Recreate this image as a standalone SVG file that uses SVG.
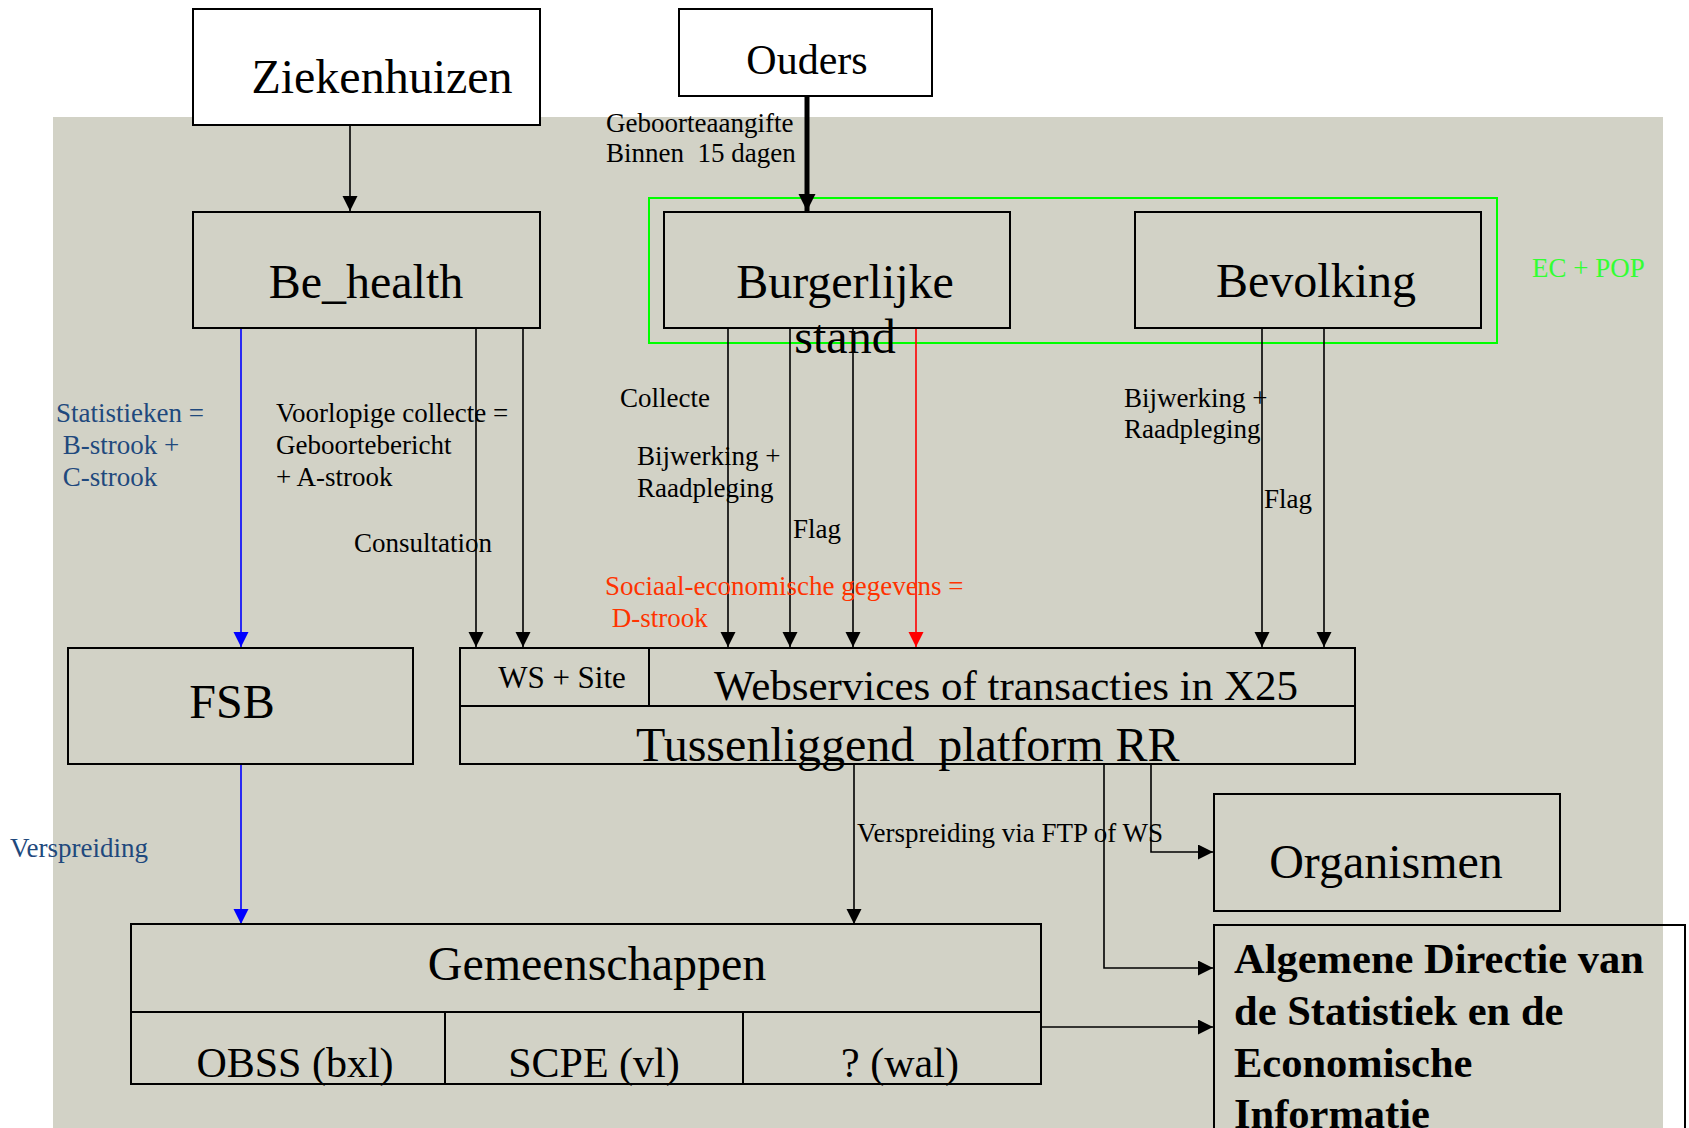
<svg xmlns="http://www.w3.org/2000/svg" width="1689" height="1128" viewBox="0 0 1689 1128">
<defs>
<style>
.box{fill:none;stroke:#000;stroke-width:2}
.wbox{fill:#fff;stroke:#000;stroke-width:2}
.t{font-family:"Liberation Serif","Times New Roman",serif;fill:#000}
.big{font-size:48px}
.mid{font-size:42px}
.sm{font-size:27px}
.c{stroke:#000;stroke-width:1.6;fill:none;marker-end:url(#ah)}
.cb{stroke:#0000FF;stroke-width:1.6;fill:none;marker-end:url(#ahb)}
.cr{stroke:#FF0000;stroke-width:1.6;fill:none;marker-end:url(#ahr)}
</style>
<marker id="ah" markerUnits="userSpaceOnUse" markerWidth="16" markerHeight="16" refX="15" refY="7.5" orient="auto"><path d="M0,0 L15,7.5 L0,15 z" fill="#000"/></marker>
<marker id="ahb" markerUnits="userSpaceOnUse" markerWidth="16" markerHeight="16" refX="15" refY="7.5" orient="auto"><path d="M0,0 L15,7.5 L0,15 z" fill="#0000FF"/></marker>
<marker id="ahr" markerUnits="userSpaceOnUse" markerWidth="16" markerHeight="16" refX="15" refY="7.5" orient="auto"><path d="M0,0 L15,7.5 L0,15 z" fill="#FF0000"/></marker>
<marker id="ahk" markerUnits="userSpaceOnUse" markerWidth="18" markerHeight="18" refX="17" refY="8.5" orient="auto"><path d="M0,0 L17,8.5 L0,17 z" fill="#000"/></marker>
</defs>
<rect x="0" y="0" width="1689" height="1128" fill="#fff"/>
<rect x="53" y="117" width="1610" height="1011" fill="#D2D2C6"/>

<g id="group-ecpop">
<rect x="649" y="198" width="848" height="145" fill="none" stroke="#00FF00" stroke-width="2"/>
<text class="t sm" x="1532" y="277" style="fill:#33FF33">EC + POP</text>
</g>

<g id="connectors">
<line class="c" x1="350" y1="125" x2="350" y2="211"/>
<line x1="807" y1="96" x2="807" y2="211" stroke="#000" stroke-width="5" marker-end="url(#ahk)"/>
<line class="cb" x1="241" y1="329" x2="241" y2="647"/>
<line class="c" x1="476" y1="329" x2="476" y2="647"/>
<line class="c" x1="523" y1="329" x2="523" y2="647"/>
<line class="c" x1="728" y1="329" x2="728" y2="647"/>
<line class="c" x1="790" y1="329" x2="790" y2="647"/>
<line class="c" x1="853" y1="329" x2="853" y2="647"/>
<line class="cr" x1="916" y1="329" x2="916" y2="647"/>
<line class="c" x1="1262" y1="329" x2="1262" y2="647"/>
<line class="c" x1="1324" y1="329" x2="1324" y2="647"/>
<line class="cb" x1="241" y1="765" x2="241" y2="924"/>
<line class="c" x1="854" y1="765" x2="854" y2="924"/>
<polyline class="c" points="1151,765 1151,852 1213,852"/>
<polyline class="c" points="1104,765 1104,968 1213,968"/>
<line class="c" x1="1042" y1="1027" x2="1213" y2="1027"/>
<text class="t sm" x="606" y="132">Geboorteaangifte</text>
<text class="t sm" x="606" y="162" xml:space="preserve">Binnen  15 dagen</text>
<text class="t sm" x="56" y="422" style="fill:#1F497D">Statistieken =</text>
<text class="t sm" x="56" y="454" style="fill:#1F497D" xml:space="preserve"> B-strook +</text>
<text class="t sm" x="56" y="486" style="fill:#1F497D" xml:space="preserve"> C-strook</text>
<text class="t sm" x="276" y="422">Voorlopige collecte =</text>
<text class="t sm" x="276" y="454">Geboortebericht</text>
<text class="t sm" x="276" y="486">+ A-strook</text>
<text class="t sm" x="354" y="552">Consultation</text>
<text class="t sm" x="620" y="407">Collecte</text>
<text class="t sm" x="637" y="465">Bijwerking +</text>
<text class="t sm" x="637" y="497">Raadpleging</text>
<text class="t sm" x="793" y="538">Flag</text>
<text class="t sm" x="1124" y="407">Bijwerking +</text>
<text class="t sm" x="1124" y="438">Raadpleging</text>
<text class="t sm" x="1264" y="508">Flag</text>
<text class="t sm" x="605" y="595" style="fill:#FF3300">Sociaal-economische gegevens =</text>
<text class="t sm" x="605" y="627" style="fill:#FF3300" xml:space="preserve"> D-strook</text>
<text class="t sm" x="10" y="857" style="fill:#1F497D">Verspreiding</text>
<text class="t sm" x="857" y="842">Verspreiding via FTP of WS</text>
</g>

<g id="node-ziekenhuizen">
<rect class="wbox" x="193" y="9" width="347" height="116"/>
<text class="t big" x="382" y="93" text-anchor="middle">Ziekenhuizen</text>
</g>
<g id="node-ouders">
<rect class="wbox" x="679" y="9" width="253" height="87"/>
<text class="t" x="807" y="74" text-anchor="middle" font-size="42">Ouders</text>
</g>
<g id="node-behealth">
<rect class="box" x="193" y="212" width="347" height="116"/>
<text class="t big" x="366" y="298" text-anchor="middle">Be_health</text>
</g>
<g id="node-burgerlijke">
<rect class="box" x="664" y="212" width="346" height="116"/>
<text class="t big" x="845" y="298" text-anchor="middle">Burgerlijke</text>
<text class="t big" x="845" y="353" text-anchor="middle">stand</text>
</g>
<g id="node-bevolking">
<rect class="box" x="1135" y="212" width="346" height="116"/>
<text class="t big" x="1316" y="297" text-anchor="middle">Bevolking</text>
</g>
<g id="node-fsb">
<rect class="box" x="68" y="648" width="345" height="116"/>
<text class="t big" x="232" y="718" text-anchor="middle">FSB</text>
</g>
<g id="node-platform">
<rect class="box" x="460" y="648" width="895" height="116"/>
<line x1="460" y1="706" x2="1355" y2="706" stroke="#000" stroke-width="2"/>
<line x1="649" y1="648" x2="649" y2="706" stroke="#000" stroke-width="2"/>
<text class="t" x="562" y="688" text-anchor="middle" font-size="31">WS + Site</text>
<text class="t" x="1006" y="700" text-anchor="middle" font-size="43">Webservices of transacties in X25</text>
<text class="t big" x="636" y="761" xml:space="preserve">Tussenliggend  platform RR</text>
</g>
<g id="node-gemeenschappen">
<rect class="box" x="131" y="924" width="910" height="160"/>
<line x1="131" y1="1012" x2="1041" y2="1012" stroke="#000" stroke-width="2"/>
<line x1="445" y1="1012" x2="445" y2="1084" stroke="#000" stroke-width="2"/>
<line x1="743" y1="1012" x2="743" y2="1084" stroke="#000" stroke-width="2"/>
<text class="t big" x="597" y="980" text-anchor="middle">Gemeenschappen</text>
<text class="t mid" x="295" y="1077" text-anchor="middle">OBSS (bxl)</text>
<text class="t mid" x="594" y="1077" text-anchor="middle">SCPE (vl)</text>
<text class="t mid" x="900" y="1077" text-anchor="middle">? (wal)</text>
</g>
<g id="node-organismen">
<rect class="box" x="1214" y="794" width="346" height="117"/>
<text class="t big" x="1386" y="878" text-anchor="middle">Organismen</text>
</g>
<g id="node-algemene">
<rect class="box" x="1214" y="925" width="471" height="220"/>
<text class="t" x="1234" y="973" font-size="42.5" font-weight="bold">Algemene Directie van</text>
<text class="t" x="1234" y="1025" font-size="42.5" font-weight="bold">de Statistiek en de</text>
<text class="t" x="1234" y="1077" font-size="42.5" font-weight="bold">Economische</text>
<text class="t" x="1234" y="1128" font-size="42.5" font-weight="bold">Informatie</text>
</g>
</svg>
